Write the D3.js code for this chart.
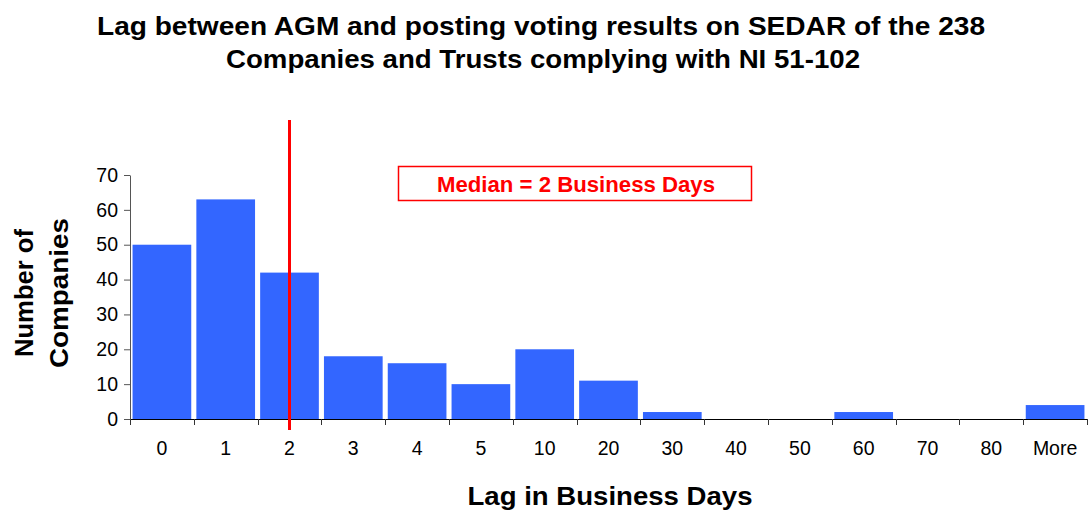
<!DOCTYPE html>
<html>
<head>
<meta charset="utf-8">
<script src="https://cdn.jsdelivr.net/npm/d3@7"></script>
<style>
  body { margin: 0; background: #fff; }
  text { font-family: Arial, "Liberation Sans", sans-serif; }
</style>
</head>
<body>
<svg id="chart" width="1089" height="511"></svg>
<script>
// data
const categories = ["0", "1", "2", "3", "4", "5", "10", "20", "30", "40", "50", "60", "70", "80", "More"];
const counts = [50, 63, 42, 18, 16, 10, 20, 11, 2, 0, 0, 2, 0, 0, 4];
const yTicks = [0, 10, 20, 30, 40, 50, 60, 70];
const medianCategory = "2";

const svg = d3.select("#chart");
const margin = {top: 175, right: 2, bottom: 92, left: 130};
const width = 1089 - margin.left - margin.right,
    height = 511 - margin.top - margin.bottom;

const chart = svg.append("g")
    .attr("transform", `translate(${margin.left}, ${margin.top})`);

const x = d3.scaleBand()
    .domain(categories)
    .range([0, width])
    .paddingInner(0.08)
    .paddingOuter(0.04);

const y = d3.scaleLinear()
    .domain([0, 70])
    .range([height, 0]);

// bars
chart.selectAll("rect.bar")
    .data(categories)
    .join("rect")
    .attr("class", "bar")
    .attr("x", d => x(d))
    .attr("width", x.bandwidth())
    .attr("y", (d, i) => y(counts[i]))
    .attr("height", (d, i) => height - y(counts[i]))
    .style("fill", "#3366ff");

// x axis: ticks at band edges, labels at band centres
const step = x.step();
const xAxis = chart.append("g").attr("transform", `translate(0, ${height})`);
xAxis.append("line")
    .attr("x1", 0).attr("x2", width)
    .attr("y1", 0.5).attr("y2", 0.5)
    .style("stroke", "#000");
xAxis.selectAll("line.tick")
    .data(d3.range(categories.length + 1))
    .join("line")
    .attr("class", "tick")
    .attr("x1", i => Math.round(i * step) + 0.5)
    .attr("x2", i => Math.round(i * step) + 0.5)
    .attr("y1", 0).attr("y2", 6)
    .style("stroke", "#333");
xAxis.selectAll("text")
    .data(categories)
    .join("text")
    .attr("x", d => x(d) + x.bandwidth() / 2)
    .attr("y", 36)
    .attr("text-anchor", "middle")
    .style("font-size", "19.5px")
    .style("fill", "#000")
    .text(d => d);

// y axis
const yAxis = chart.append("g")
    .call(d3.axisLeft(y).tickValues(yTicks).tickSize(6).tickPadding(6).tickSizeOuter(0));
yAxis.select(".domain").style("stroke", "#555");
yAxis.selectAll(".tick line").style("stroke", "#555");
yAxis.selectAll(".tick text")
    .style("font-size", "19.5px")
    .style("font-family", "Arial, 'Liberation Sans', sans-serif")
    .style("fill", "#000");

// median line
const mx = x(medianCategory) + x.bandwidth() / 2;
chart.append("line")
    .attr("x1", mx).attr("x2", mx)
    .attr("y1", -55).attr("y2", height + 11)
    .style("stroke", "#ff0000")
    .style("stroke-width", 3);

// median annotation box
svg.append("rect")
    .attr("x", 398.5).attr("y", 166.5)
    .attr("width", 353).attr("height", 34)
    .style("fill", "#fff")
    .style("stroke", "#ff0000")
    .style("stroke-width", 1.5);
svg.append("text")
    .attr("x", 576).attr("y", 192)
    .attr("text-anchor", "middle")
    .attr("textLength", 278)
    .attr("lengthAdjust", "spacingAndGlyphs")
    .style("font-size", "22px")
    .style("font-weight", "bold")
    .style("fill", "#ff0000")
    .text("Median = 2 Business Days");

// title
const title = svg.append("text")
    .attr("text-anchor", "middle")
    .style("font-size", "25px")
    .style("font-weight", "bold")
    .style("fill", "#000");
title.append("tspan").attr("x", 541).attr("y", 35)
    .attr("textLength", 888).attr("lengthAdjust", "spacingAndGlyphs")
    .text("Lag between AGM and posting voting results on SEDAR of the 238");
title.append("tspan").attr("x", 543).attr("y", 68)
    .attr("textLength", 634).attr("lengthAdjust", "spacingAndGlyphs")
    .text("Companies and Trusts complying with NI 51-102");

// axis titles
svg.append("text")
    .attr("x", 610).attr("y", 505)
    .attr("text-anchor", "middle")
    .attr("textLength", 285)
    .attr("lengthAdjust", "spacingAndGlyphs")
    .style("font-size", "26px")
    .style("font-weight", "bold")
    .text("Lag in Business Days");

const yTitle = svg.append("text")
    .attr("transform", "translate(0, 293) rotate(-90)")
    .attr("text-anchor", "middle")
    .style("font-size", "25px")
    .style("font-weight", "bold");
yTitle.append("tspan").attr("x", 0).attr("y", 33)
    .attr("textLength", 128).attr("lengthAdjust", "spacingAndGlyphs").text("Number of");
yTitle.append("tspan").attr("x", 0).attr("y", 68)
    .attr("textLength", 150).attr("lengthAdjust", "spacingAndGlyphs").text("Companies");
</script>
</body>
</html>
